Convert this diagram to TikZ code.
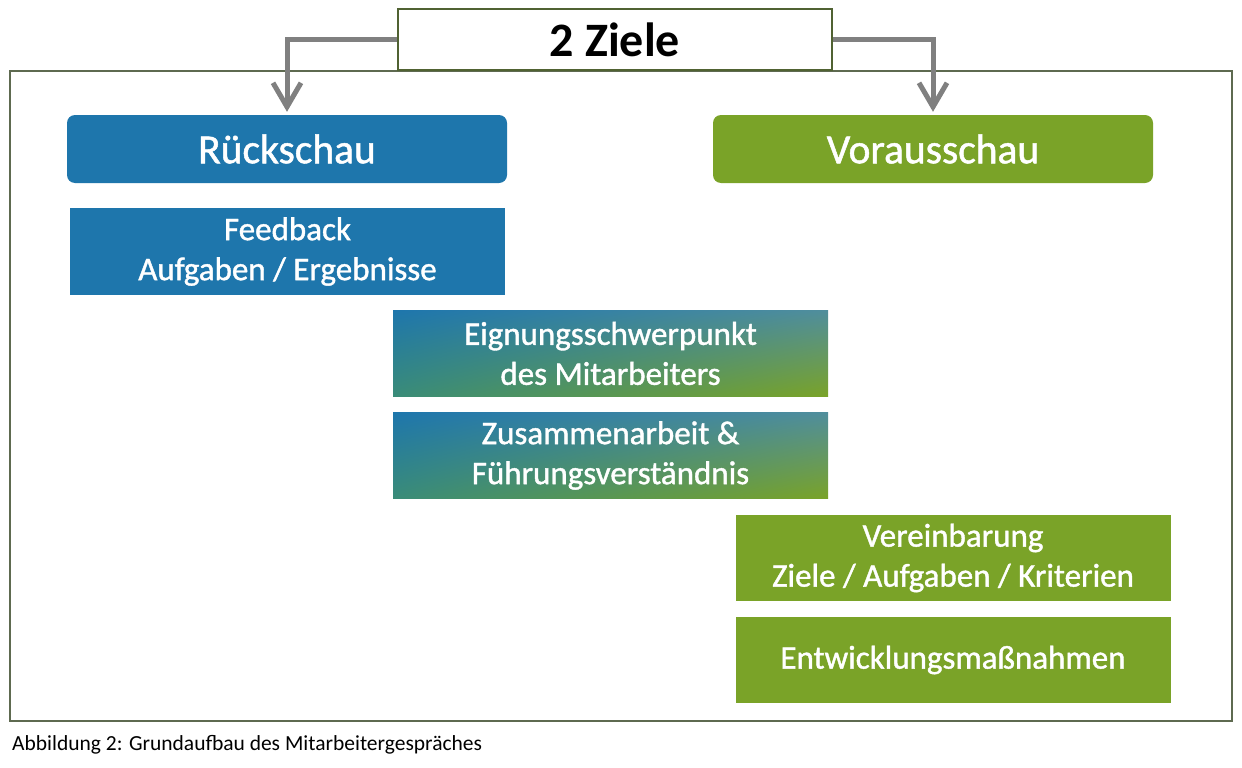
\documentclass[tikz,border=0pt]{standalone}
\usepackage{fontspec}
\setmainfont{Carlito}
\newfontfamily\boxfont{Carlito}[FakeBold=1.2]
\usetikzlibrary{arrows.meta,shadings}
\definecolor{cblue}{RGB}{30,118,172}
\definecolor{cgreen}{RGB}{122,163,40}
\definecolor{cframe}{RGB}{94,106,80}
\definecolor{ctopb}{RGB}{80,98,50}
\definecolor{carrow}{RGB}{128,128,128}
\definecolor{cmidA}{RGB}{80,142,156}
\definecolor{cmidB}{RGB}{58,140,120}
\tikzset{
  headbox/.style={rectangle, rounded corners=8pt, minimum width=440pt, minimum height=68pt, text=white, font=\boxfont\fontsize{41.5}{48}\selectfont, inner sep=0pt},
  itembox/.style={rectangle, minimum width=435pt, minimum height=87pt, text=white, align=center, font=\boxfont\fontsize{33}{40}\selectfont, inner sep=0pt},
  bluefill/.style={fill=cblue},
  greenfill/.style={fill=cgreen},
  gradfill/.style={shade, upper left=cblue, lower right=cgreen, upper right=cmidA, lower left=cmidB},
  arr/.style={draw=carrow, line width=5pt, -{Straight Barb[length=24pt, width=28pt, line width=5pt]}, shorten >=3pt},
}
\begin{document}
\begin{tikzpicture}[x=1pt, y=-1pt]
\useasboundingbox (0,0) rectangle (1242,768);
\fill[white] (0,0) rectangle (1242,768);
% frame
\draw[cframe, line width=2.5pt] (10,71) rectangle (1232,721);
% title box
\node[draw=ctopb, line width=2pt, fill=white, minimum width=434pt, minimum height=61pt, inner sep=0pt, font=\fontsize{48}{56}\selectfont\bfseries] (top) at (615,39.5) {2 Ziele};
% head boxes
\node[headbox, bluefill] (rueck) at (287,149) {Rückschau};
\node[headbox, greenfill] (voraus) at (933,149) {Vorausschau};
% items
\node[itembox, bluefill] (feed) at (287.5,251.5) {Feedback\\Aufgaben / Ergebnisse};
\node[itembox, gradfill, minimum height=86pt] (eign) at (610.5,353.5) {Eignungsschwerpunkt\\des Mitarbeiters};
\node[itembox, gradfill, minimum height=86pt] (zus) at (610.5,455.5) {Zusammenarbeit \&\\Führungsverständnis};
\node[itembox, greenfill, minimum height=86pt] (verein) at (953,558) {Vereinbarung\\Ziele / Aufgaben / Kriterien};
\node[itembox, greenfill, minimum height=86pt] (entw) at (953,660) {Entwicklungsmaßnahmen};
% arrows
\draw[arr] (top.west) -| (rueck.north);
\draw[arr] (top.east) -| (voraus.north);
% caption
\node[anchor=base west, inner sep=0pt, font=\fontsize{21.5}{26}\selectfont] (cap) at (12,750) {Abbildung 2: Grundaufbau des Mitarbeitergespräches};
\end{tikzpicture}
\end{document}
